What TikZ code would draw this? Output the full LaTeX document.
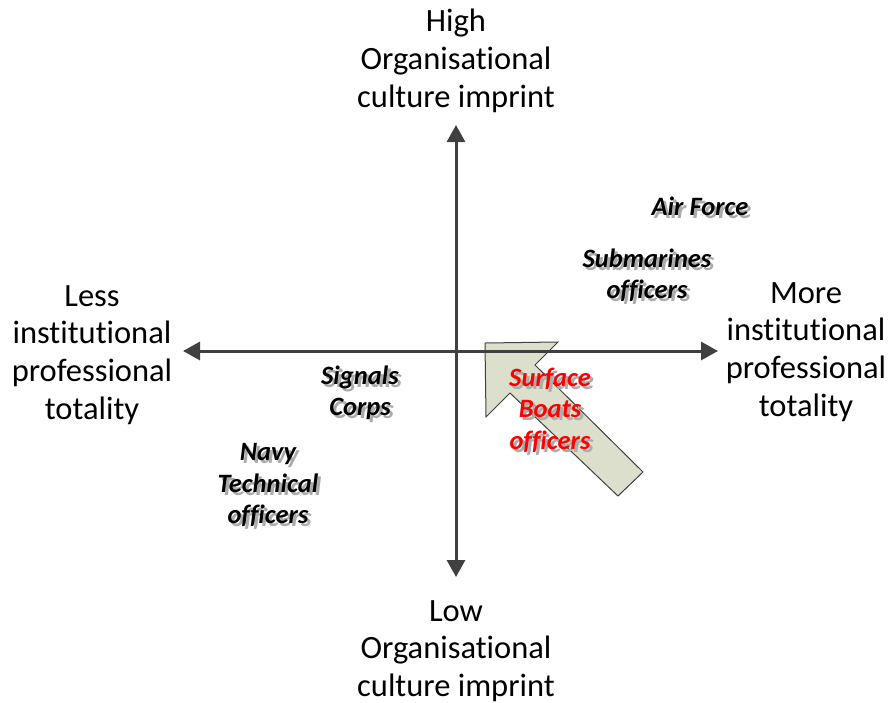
\documentclass[tikz,border=0pt]{standalone}
\usepackage{fontspec}
\setmainfont{Carlito}[Ligatures=NoCommon]
\usetikzlibrary{arrows.meta}
\definecolor{axisgray}{HTML}{404040}
\definecolor{shiftfill}{HTML}{DCDFCB}
\definecolor{shadowgray}{HTML}{ABABAB}
\newcommand\castlabel[4]{%
  \node[tag, text=shadowgray, xshift=3pt, yshift=-3pt] at (#2) {#4};
  \node[tag, text=#3] (#1) at (#2) {#4};}
\begin{document}
\begin{tikzpicture}[x=1pt, y=-1pt,
  axis/.style={line width=3pt, draw=axisgray,
    {Triangle[length=17pt,width=18pt]}-{Triangle[length=17pt,width=18pt]}},
  pole/.style={align=center, inner sep=0pt,
    font=\fontsize{32.5}{37.8}\selectfont},
  tag/.style={align=center, inner sep=0pt,
    font=\fontsize{26.5}{31.5}\selectfont\bfseries\itshape},
  shiftarrow/.style={fill=shiftfill, draw=axisgray, line width=1pt, line join=miter}]
  \useasboundingbox (0,0) rectangle (888,702);

  % broad arrow showing the shift of surface boats officers
  \draw[shiftarrow] (485,343) -- (558,342) -- (535,365) -- (643,472)
    -- (618,496) -- (510,393) -- (486,417) -- cycle;

  % axes
  \coordinate (top) at (456,125);
  \coordinate (bottom) at (456,577);
  \coordinate (left) at (183,351);
  \coordinate (right) at (718,351);
  \draw[axis] (bottom) -- (top);
  \draw[axis] (left) -- (right);

  % pole labels
  \node[pole] (high) at (456,61) {High\\Organisational\\culture imprint};
  \node[pole] (low) at (456,651) {Low\\Organisational\\culture imprint};
  \node[pole] (less) at (92,355) {Less\\institutional\\professional\\totality};
  \node[pole] (more) at (806,352) {More\\institutional\\professional\\totality};

  % groups placed in the plane
  \castlabel{airforce}{700,206}{black}{Air Force}
  \castlabel{submarines}{647,275}{black}{Submarines\\officers}
  \castlabel{signals}{360,393}{black}{Signals\\Corps}
  \castlabel{navytech}{268,485}{black}{Navy\\Technical\\officers}
  \castlabel{surface}{550,410}{red}{Surface\\Boats\\officers}
\end{tikzpicture}
\end{document}
